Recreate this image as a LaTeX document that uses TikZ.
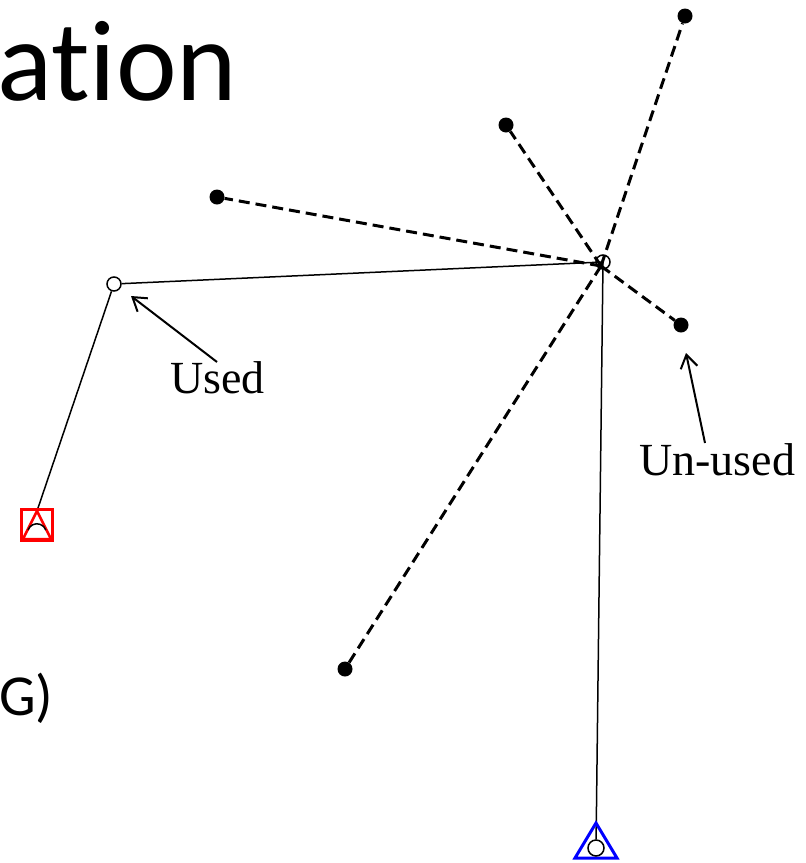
\documentclass[tikz,border=0pt]{standalone}
\usepackage{fontspec}
\setmainfont{Liberation Serif}
\newfontfamily\titlefont[Ligatures={NoCommon,NoRequired,NoContextual}]{Carlito}
\usetikzlibrary{arrows.meta,backgrounds}
\begin{document}
\begin{tikzpicture}[x=1pt,y=-1pt,
  opennode/.style={circle, draw, line width=1.5pt, minimum size=14pt, inner sep=0pt},
  dotnode/.style={circle, fill=black, minimum size=15pt, inner sep=0pt},
  dashedge/.style={line width=3pt, dash pattern=on 11pt off 6pt},
  solidedge/.style={line width=1.5pt},
  lbl/.style={font=\fontsize{46}{50}\selectfont, inner sep=0pt, anchor=base west},
  ttl/.style={inner sep=0pt, anchor=base west},
  pointer/.style={line width=2pt, -{Straight Barb[length=13pt,width=17pt,line width=2pt]}}
]
\useasboundingbox (0,0) rectangle (806,863);

% title fragments
\node[ttl, font=\titlefont\fontsize{115}{120}\selectfont] (title) at (-3,100) {at\kern0pt ion};
\node[ttl, font=\titlefont\fontsize{58}{60}\selectfont] (title2) at (-1,715) {G)};

% nodes
\node[opennode] (c) at (603,262) {};
\coordinate (hub) at (601,266);
\node[opennode, fill=white] (u) at (114,284) {};
\node[dotnode] (d1) at (685,16) {};
\node[dotnode] (d2) at (506,125) {};
\node[dotnode] (d3) at (217,197) {};
\node[dotnode] (d4) at (681,325) {};
\node[dotnode] (d5) at (345,669) {};

% red start marker
\node[draw=red, line width=3.5pt, minimum size=31pt, inner sep=0pt] (start) at (37,525) {};
\coordinate (sapex) at (37,511);
\draw[red, line width=2.5pt] (sapex) -- (23,539) -- (51,539) -- cycle;
\draw[line width=1.5pt] (28,530) arc[start angle=200, end angle=340, radius=9.5];

% blue goal marker
\coordinate (gapex) at (596,823);
\draw[blue, line width=3pt, line join=miter] (gapex) -- (617,858) -- (575,858) -- cycle;
\node[circle, draw, fill=white, line width=1.5pt, minimum size=16pt, inner sep=0pt] (goal) at (596,848) {};

% connectors
\begin{pgfonlayer}{background}
\draw[dashedge] (hub) -- (d1);
\draw[dashedge] (hub) -- (d2);
\draw[dashedge] (hub) -- (d3);
\draw[dashedge] (hub) -- (d4);
\draw[dashedge] (hub) -- (d5);
\draw[solidedge] (u) -- (c.center);
\draw[solidedge] (u) -- (sapex);
\draw[solidedge] (c.center) -- (goal);
\end{pgfonlayer}

% labels
\node[lbl] (usedlbl) at (170,393) {Used};
\coordinate (usedtail) at (217,362);
\coordinate (usedtip) at (131,296);
\draw[pointer] (usedtail) -- (usedtip);

\node[lbl] (unusedlbl) at (639,475) {Un-used};
\coordinate (untail) at (705,443);
\coordinate (untip) at (686,353);
\draw[pointer] (untail) -- (untip);
\end{tikzpicture}
\end{document}
